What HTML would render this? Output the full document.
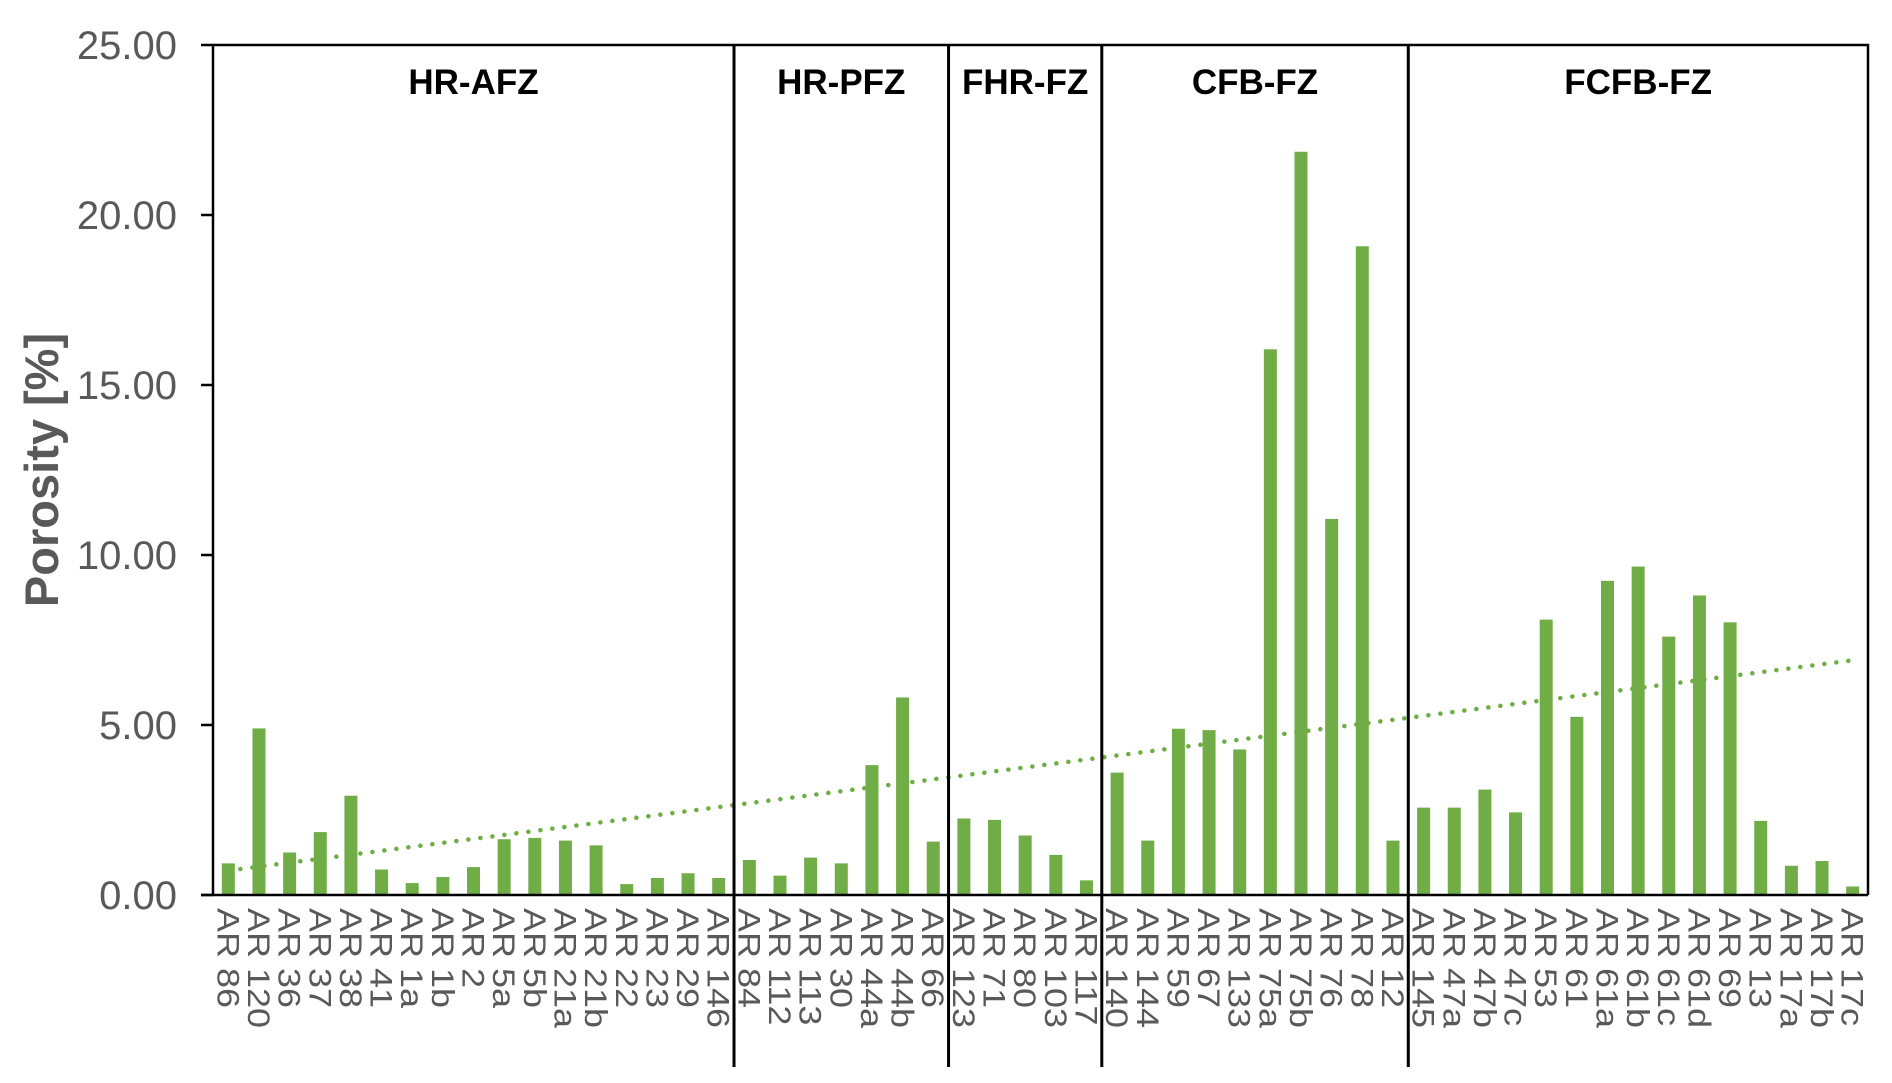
<!DOCTYPE html>
<html><head><meta charset="utf-8"><style>
html,body{margin:0;padding:0;background:#fff;}
svg{display:block;font-family:"Liberation Sans",Arial,sans-serif;}
</style></head><body>
<svg id="chart" width="1892" height="1083" viewBox="0 0 1892 1083" xmlns="http://www.w3.org/2000/svg"></svg>
<script>
const categories = ["AR 86","AR 120","AR 36","AR 37","AR 38","AR 41","AR 1a","AR 1b","AR 2","AR 5a","AR 5b","AR 21a","AR 21b","AR 22","AR 23","AR 29","AR 146",
"AR 84","AR 112","AR 113","AR 30","AR 44a","AR 44b","AR 66",
"AR 123","AR 71","AR 80","AR 103","AR 117",
"AR 140","AR 144","AR 59","AR 67","AR 133","AR 75a","AR 75b","AR 76","AR 78","AR 12",
"AR 145","AR 47a","AR 47b","AR 47c","AR 53","AR 61","AR 61a","AR 61b","AR 61c","AR 61d","AR 69","AR 13","AR 17a","AR 17b","AR 17c"];
const porosity = [0.93,4.9,1.25,1.85,2.92,0.75,0.35,0.53,0.82,1.64,1.68,1.6,1.46,0.32,0.5,0.64,0.5,
1.03,0.57,1.1,0.93,3.82,5.81,1.57,
2.25,2.21,1.75,1.18,0.43,
3.6,1.6,4.89,4.85,4.28,16.05,21.86,11.06,19.08,1.6,
2.57,2.57,3.1,2.43,8.1,5.24,9.24,9.66,7.6,8.81,8.02,2.18,0.86,1.0,0.25];
const zoneNames = ["HR-AFZ","HR-PFZ","FHR-FZ","CFB-FZ","FCFB-FZ"];
const zoneCounts = [17,7,5,10,15];
const yTicks = [0,5,10,15,20,25];
const yTickLabels = ["0.00","5.00","10.00","15.00","20.00","25.00"];

const NS="http://www.w3.org/2000/svg";
const svg=document.getElementById('chart');
const L=213,R=1868,T=45,B=895,YMAX=25;
const n=categories.length, cw=(R-L)/n;
const x=i=>L+cw*(i+0.5);
const y=v=>B-(v/YMAX)*(B-T);
function mk(tag,attrs,parent){const e=document.createElementNS(NS,tag);for(const k in attrs)e.setAttribute(k,attrs[k]);(parent||svg).appendChild(e);return e;}

porosity.forEach((v,i)=>{
  const r=mk('rect',{x:x(i)-6.5,y:y(v),width:13,height:B-y(v),fill:'#70AD47'});
  
  
});
{
  let sx=0,sy=0,sxx=0,sxy=0;
  porosity.forEach((v,i)=>{sx+=i;sy+=v;sxx+=i*i;sxy+=i*v;});
  const m=(n*sxy-sx*sy)/(n*sxx-sx*sx), b=(sy-m*sx)/n;
  const t=mk('line',{x1:x(0),y1:y(b),x2:x(n-1),y2:y(b+m*(n-1)),stroke:'#70AD47','stroke-width':4.5,'stroke-dasharray':'0.1 12','stroke-linecap':'round'});
  
  
}
const frame=mk('path',{d:`M${L},${B} L${L},${T} L${R},${T} L${R},${B}`,fill:'none',stroke:'#000','stroke-width':2.5});


const xa=mk('line',{x1:L-12,y1:B,x2:R,y2:B,stroke:'#000','stroke-width':2.5});


yTicks.forEach((v,i)=>{
  const tk=mk('line',{x1:L-12,y1:y(v),x2:L,y2:y(v),stroke:'#000','stroke-width':2.5});
  
  
  const tx=mk('text',{x:177,y:y(v)+14,'text-anchor':'end','font-size':40,fill:'#595959'});
  tx.textContent=yTickLabels[i];
  
  
});
let start=0;
zoneNames.forEach((z,k)=>{
  const end=start+zoneCounts[k];
  const cx=L+cw*(start+end)/2;
  const zt=mk('text',{x:cx,y:94,'text-anchor':'middle','font-size':35,'font-weight':'bold',fill:'#000'});
  zt.textContent=z;
  
  
  if(k<zoneNames.length-1){
    const dx=L+cw*end;
    const d=mk('line',{x1:dx,y1:T,x2:dx,y2:1067,stroke:'#000','stroke-width':3});
    
    
  }
  start=end;
});
categories.forEach((c,i)=>{
  const t=mk('text',{transform:`translate(${x(i)-11},908) rotate(90) scale(1.2,1.05)`,'font-size':30,fill:'#595959'});
  t.textContent=c;
  
  
});
const yt=mk('text',{transform:'translate(58,470) rotate(-90)','text-anchor':'middle','font-size':47,'font-weight':'bold',fill:'#595959'});
yt.textContent='Porosity [%]';


</script>
</body></html>
